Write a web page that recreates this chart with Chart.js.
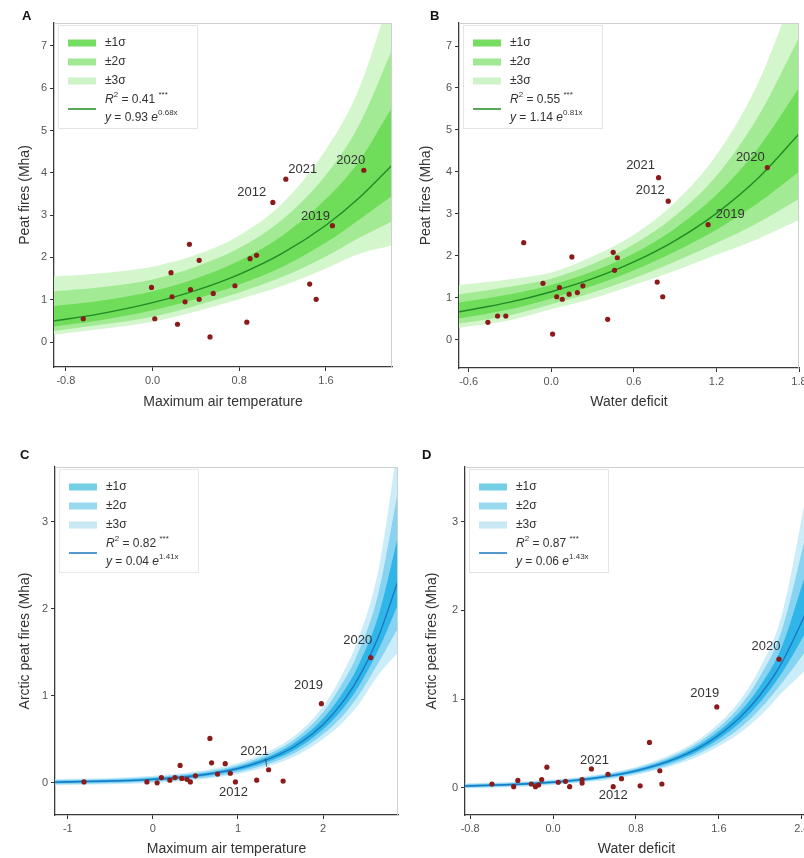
<!DOCTYPE html>
<html>
<head>
<meta charset="utf-8">
<script src="https://cdn.jsdelivr.net/npm/chart.js@4.4.1/dist/chart.umd.min.js"></script>
<style>
  html, body { margin: 0; padding: 0; background: #fff; overflow: hidden; }
  #page { position: relative; width: 804px; height: 858px; overflow: hidden; }
  canvas { position: absolute; }
  .tag { position: absolute; font: bold 13px 'Liberation Sans', Arial, sans-serif; line-height: 13px; color: #111; }
</style>
</head>
<body>
<div id="page">
  <canvas id="chartA" width="400" height="420" style="left:0;top:0"></canvas>
  <canvas id="chartB" width="404" height="420" style="left:400px;top:0"></canvas>
  <canvas id="chartC" width="400" height="418" style="left:0;top:440px"></canvas>
  <canvas id="chartD" width="410" height="418" style="left:400px;top:440px"></canvas>
  <div class="tag" style="left:22px;top:9px">A</div>
  <div class="tag" style="left:430px;top:9px">B</div>
  <div class="tag" style="left:20px;top:448px">C</div>
  <div class="tag" style="left:422px;top:448px">D</div>
</div>
<script>
// ---- tick labels ----
const ticksXA = [-0.8, 0, 0.8, 1.6];
const ticksXB = [-0.6, 0, 0.6, 1.2, 1.8];
const ticksXC = [-1, 0, 1, 2];
const ticksXD = [-0.8, 0, 0.8, 1.6, 2.4];
const ticksYTop = [0, 1, 2, 3, 4, 5, 6, 7];
const ticksYBottom = [0, 1, 2, 3];

// ---- fit text (legend) ----
const r2Values = ['0.41', '0.55', '0.82', '0.87'];
const fitCoefA = ['0.93', '1.14', '0.04', '0.06'];
const fitCoefB = ['0.68x', '0.81x', '1.41x', '1.43x'];

// ---- panel A: peat fires vs maximum air temperature ----
const tempA = [-0.64, -0.01, 0.02, 0.17, 0.18, 0.23, 0.30, 0.34, 0.35, 0.43, 0.43, 0.53, 0.56, 0.76, 0.87, 0.90, 0.96, 1.11, 1.23, 1.45, 1.51, 1.66, 1.95];
const firesA = [0.55, 1.29, 0.55, 1.64, 1.07, 0.42, 0.95, 2.31, 1.24, 1.93, 1.01, 0.12, 1.15, 1.33, 0.47, 1.97, 2.05, 3.30, 3.85, 1.37, 1.01, 2.75, 4.06];
const yearsA = ['', '', '', '', '', '', '', '', '', '', '', '', '', '', '', '', '', '2012', '2021', '', '', '2019', '2020'];
const fitXA = [-0.91, -0.5, 0, 0.4, 0.8, 1.2, 1.6, 1.9, 2.21];
const fitYA = [0.50, 0.66, 0.93, 1.22, 1.60, 2.10, 2.76, 3.39, 4.18];
const up1A = [0.85, 0.97, 1.20, 1.50, 1.92, 2.52, 3.38, 4.25, 5.55];
const up2A = [1.20, 1.29, 1.48, 1.78, 2.22, 2.90, 3.95, 5.10, 6.90];
const up3A = [1.55, 1.62, 1.78, 2.06, 2.52, 3.28, 4.55, 5.95, 8.30];
const lo1A = [0.37, 0.51, 0.75, 1.02, 1.36, 1.78, 2.35, 2.88, 3.45];
const lo2A = [0.26, 0.40, 0.60, 0.86, 1.17, 1.54, 2.02, 2.45, 2.85];
const lo3A = [0.17, 0.30, 0.48, 0.72, 1.01, 1.33, 1.74, 2.08, 2.28];

// ---- panel B: peat fires vs water deficit ----
const deficitB = [-0.46, -0.39, -0.33, -0.20, -0.06, 0.01, 0.04, 0.06, 0.08, 0.13, 0.15, 0.19, 0.23, 0.41, 0.45, 0.48, 0.46, 0.77, 0.78, 0.81, 0.85, 1.14, 1.57];
const firesB = [0.41, 0.56, 0.56, 2.31, 1.34, 0.13, 1.02, 1.24, 0.96, 1.08, 1.97, 1.12, 1.28, 0.48, 2.08, 1.95, 1.65, 1.37, 3.86, 1.02, 3.30, 2.74, 4.10];
const yearsB = ['', '', '', '', '', '', '', '', '', '', '', '', '', '', '', '', '', '', '2021', '', '2012', '2019', '2020'];
const fitXB = [-0.67, -0.3, 0, 0.3, 0.6, 0.9, 1.2, 1.5, 1.8];
const fitYB = [0.66, 0.89, 1.14, 1.45, 1.85, 2.36, 3.01, 3.84, 4.90];
const up1B = [0.88, 1.08, 1.30, 1.62, 2.05, 2.65, 3.45, 4.55, 6.00];
const up2B = [1.08, 1.26, 1.45, 1.80, 2.27, 2.95, 3.90, 5.30, 7.20];
const up3B = [1.30, 1.44, 1.60, 1.98, 2.50, 3.27, 4.40, 6.10, 8.60];
const lo1B = [0.50, 0.72, 0.98, 1.28, 1.65, 2.10, 2.62, 3.25, 4.00];
const lo2B = [0.38, 0.58, 0.84, 1.12, 1.46, 1.86, 2.30, 2.78, 3.35];
const lo3B = [0.28, 0.46, 0.72, 0.98, 1.30, 1.64, 2.02, 2.40, 2.85];

// ---- panel C: arctic peat fires vs maximum air temperature ----
const tempC = [-0.81, -0.07, 0.05, 0.10, 0.20, 0.26, 0.32, 0.34, 0.40, 0.44, 0.50, 0.67, 0.69, 0.76, 0.85, 0.91, 0.97, 1.22, 1.36, 1.53, 1.98, 2.56];
const firesC = [0.01, 0.01, 0.00, 0.06, 0.03, 0.06, 0.20, 0.05, 0.04, 0.01, 0.08, 0.51, 0.23, 0.10, 0.22, 0.11, 0.01, 0.03, 0.15, 0.02, 0.91, 1.44];
const yearsC = ['', '', '', '', '', '', '', '', '', '', '', '', '', '', '', '', '2012', '', '2021', '', '2019', '2020'];
const fitXC = [-1.15, -0.5, 0, 0.5, 1.0, 1.5, 1.75, 2.0, 2.2, 2.4, 2.65, 2.88];
const fitYC = [0.008, 0.020, 0.040, 0.081, 0.164, 0.332, 0.472, 0.671, 0.89, 1.18, 1.68, 2.32];
const up1C = [0.020, 0.032, 0.054, 0.097, 0.185, 0.365, 0.520, 0.74, 0.99, 1.32, 1.92, 2.83];
const up2C = [0.032, 0.044, 0.068, 0.113, 0.206, 0.398, 0.565, 0.81, 1.10, 1.47, 2.18, 3.35];
const up3C = [0.045, 0.056, 0.082, 0.130, 0.228, 0.432, 0.610, 0.88, 1.20, 1.62, 2.45, 3.90];
const lo1C = [-0.004, 0.008, 0.026, 0.065, 0.143, 0.300, 0.430, 0.615, 0.815, 1.08, 1.53, 2.05];
const lo2C = [-0.016, -0.004, 0.012, 0.049, 0.122, 0.268, 0.388, 0.560, 0.740, 0.98, 1.38, 1.78];
const lo3C = [-0.028, -0.016, -0.002, 0.033, 0.101, 0.236, 0.346, 0.505, 0.665, 0.88, 1.24, 1.50];

// ---- panel D: arctic peat fires vs water deficit ----
const deficitD = [-0.59, -0.38, -0.34, -0.21, -0.17, -0.14, -0.11, -0.06, 0.05, 0.12, 0.16, 0.28, 0.28, 0.37, 0.53, 0.58, 0.66, 0.84, 0.93, 1.03, 1.05, 1.58, 2.18];
const firesD = [0.04, 0.01, 0.08, 0.04, 0.01, 0.03, 0.09, 0.23, 0.06, 0.07, 0.01, 0.09, 0.05, 0.21, 0.15, 0.01, 0.10, 0.02, 0.51, 0.19, 0.04, 0.91, 1.45];
const yearsD = ['', '', '', '', '', '', '', '', '', '', '', '', '', '2021', '', '2012', '', '', '', '', '', '2019', '2020'];
const fitXD = [-0.85, -0.4, 0, 0.4, 0.8, 1.2, 1.5, 1.8, 2.0, 2.2, 2.46];
const fitYD = [0.018, 0.034, 0.060, 0.106, 0.188, 0.334, 0.512, 0.787, 1.048, 1.394, 2.02];
const up1D = [0.028, 0.044, 0.070, 0.118, 0.203, 0.358, 0.550, 0.85, 1.15, 1.57, 2.50];
const up2D = [0.038, 0.054, 0.080, 0.130, 0.218, 0.382, 0.587, 0.915, 1.26, 1.75, 2.95];
const up3D = [0.048, 0.064, 0.090, 0.142, 0.233, 0.406, 0.625, 0.98, 1.36, 1.92, 3.40];
const lo1D = [0.008, 0.024, 0.050, 0.094, 0.173, 0.310, 0.476, 0.729, 0.97, 1.28, 1.80];
const lo2D = [-0.002, 0.014, 0.040, 0.082, 0.158, 0.286, 0.440, 0.671, 0.89, 1.17, 1.58];
const lo3D = [-0.012, 0.004, 0.030, 0.070, 0.143, 0.262, 0.404, 0.613, 0.81, 1.06, 1.35];

const FONT = "'Liberation Sans', Arial, sans-serif";
Chart.defaults.font.family = FONT;

const green = { bands: ['#6fdc5a', '#a3ea94', '#d3f6cc'], swatch: ['#74dd62', '#a0e891', '#cdf3c6'], line: '#1f8b24' };
const blue = { bands: ['#2fb5e8', '#86d3f2', '#cbedfa'], swatch: ['#74cfe6', '#98d9ef', '#c8e8f4'], line: '#1b78c2' };

function pts(xs, ys) {
    return xs.map((x, i) => ({ x: x, y: ys[i] }));
}

function drawRich(ctx, x, y, parts) {
    parts.forEach(p => {
        ctx.font = (p.italic ? 'italic ' : '') + (p.sup ? '8px ' : '12px ') + FONT;
        ctx.fillText(p.t, x, y + (p.sup ? -5 : 0));
        x += ctx.measureText(p.t).width;
    });
}

const panelDecor = {
    id: 'panelDecor',
    afterDatasetsDraw(chart, args, o) {
        const ctx = chart.ctx;
        const ca = chart.chartArea;
        ctx.save();

        // light frame on top and right
        ctx.strokeStyle = '#cfcfcf';
        ctx.lineWidth = 1;
        ctx.beginPath();
        ctx.moveTo(ca.left, ca.top + 0.5);
        ctx.lineTo(ca.right - 0.5, ca.top + 0.5);
        ctx.lineTo(ca.right - 0.5, ca.bottom);
        ctx.stroke();

        // year labels
        const meta = chart.getDatasetMeta(7);
        ctx.fillStyle = '#333';
        ctx.font = '13px ' + FONT;
        ctx.textAlign = 'center';
        ctx.textBaseline = 'middle';
        o.years.forEach((yr, i) => {
            if (!yr) return;
            const el = meta.data[i];
            const off = o.offsets[yr];
            const lx = el.x + off[0];
            const ly = el.y + off[1];
            ctx.fillText(yr, lx, ly);
            if (o.leaders && o.leaders.indexOf(yr) >= 0) {
                ctx.strokeStyle = '#333';
                ctx.lineWidth = 0.8;
                ctx.beginPath();
                ctx.moveTo(lx + 11, ly + 7);
                ctx.lineTo(el.x - 2, el.y - 3);
                ctx.stroke();
            }
        });

        // legend box
        const x0 = ca.left + 4;
        const y0 = ca.top + 2;
        ctx.fillStyle = '#fff';
        ctx.fillRect(x0, y0, 139, 103);
        ctx.strokeStyle = '#e4e4e4';
        ctx.strokeRect(x0 + 0.5, y0 + 0.5, 139, 103);
        const rows = [18, 37, 56];
        ['±1σ', '±2σ', '±3σ'].forEach((t, k) => {
            ctx.fillStyle = o.palette.swatch[k];
            ctx.fillRect(x0 + 10, y0 + rows[k] - 3.5, 28, 7);
            ctx.fillStyle = '#333';
            ctx.textAlign = 'left';
            ctx.font = '12px ' + FONT;
            ctx.fillText(t, x0 + 47, y0 + rows[k]);
        });
        ctx.strokeStyle = o.palette.line;
        ctx.lineWidth = 1.5;
        ctx.beginPath();
        ctx.moveTo(x0 + 10, y0 + 84);
        ctx.lineTo(x0 + 38, y0 + 84);
        ctx.stroke();
        ctx.fillStyle = '#333';
        ctx.textAlign = 'left';
        drawRich(ctx, x0 + 47, y0 + 75, [
            { t: 'R', italic: true }, { t: '2', sup: true }, { t: ' = ' + r2Values[o.idx] + ' ' }, { t: '***', sup: true }
        ]);
        drawRich(ctx, x0 + 47, y0 + 93, [
            { t: 'y', italic: true }, { t: ' = ' + fitCoefA[o.idx] + ' ' }, { t: 'e', italic: true }, { t: fitCoefB[o.idx], sup: true }
        ]);
        ctx.restore();
    }
};

function buildPanel(p) {
    const band = (data, color, fill, order) => ({
        data: pts(p.fx, data),
        borderWidth: 0,
        pointRadius: 0,
        backgroundColor: color,
        fill: fill,
        cubicInterpolationMode: 'monotone',
        order: order
    });
    const fmt = v => p.decimals ? Number(v).toFixed(p.decimals) : String(v);

    return new Chart(document.getElementById(p.id), {
        type: 'line',
        data: {
            datasets: [
                band(p.up[2], p.palette.bands[2], 1, 6),
                band(p.lo[2], p.palette.bands[2], false, 6),
                band(p.up[1], p.palette.bands[1], 3, 5),
                band(p.lo[1], p.palette.bands[1], false, 5),
                band(p.up[0], p.palette.bands[0], 5, 4),
                band(p.lo[0], p.palette.bands[0], false, 4),
                {
                    data: pts(p.fx, p.fit),
                    borderColor: p.palette.line,
                    borderWidth: 1.4,
                    pointRadius: 0,
                    fill: false,
                    cubicInterpolationMode: 'monotone',
                    order: 1
                },
                {
                    data: pts(p.x, p.y),
                    showLine: false,
                    pointRadius: 2.6,
                    pointBorderWidth: 0,
                    pointBackgroundColor: '#8b1a1a',
                    order: 0
                }
            ]
        },
        options: {
            responsive: false,
            animation: false,
            events: [],
            layout: { autoPadding: false, padding: { top: p.top, right: p.right, left: 0, bottom: 0 } },
            plugins: {
                legend: { display: false },
                tooltip: { enabled: false },
                panelDecor: { years: p.years, offsets: p.offsets, leaders: p.leaders, palette: p.palette, idx: p.idx }
            },
            scales: {
                x: {
                    type: 'linear',
                    min: p.xMin,
                    max: p.xMax,
                    afterBuildTicks: s => { s.ticks = p.xTicks.map(v => ({ value: v })); },
                    afterFit: s => { s.height = p.xH; s.paddingLeft = 0; s.paddingRight = 0; },
                    ticks: { callback: v => fmt(v), color: '#555', font: { size: 11 }, padding: 3, maxRotation: 0, autoSkip: false },
                    grid: { drawOnChartArea: false, drawTicks: true, tickLength: 4, tickColor: '#333' },
                    border: { display: true, color: '#3a3a3a', width: 1.3 },
                    title: { display: true, text: p.xTitle, color: '#333', font: { size: 14 }, padding: { top: 0, bottom: p.xTitlePad } }
                },
                y: {
                    type: 'linear',
                    min: p.yMin,
                    max: p.yMax,
                    afterBuildTicks: s => { s.ticks = p.yTicks.map(v => ({ value: v })); },
                    afterFit: s => { s.width = p.yW; s.paddingTop = 0; s.paddingBottom = 0; },
                    ticks: { callback: v => String(v), color: '#555', font: { size: 11 }, padding: 3, autoSkip: false },
                    grid: { drawOnChartArea: false, drawTicks: true, tickLength: 4, tickColor: '#333' },
                    border: { display: true, color: '#3a3a3a', width: 1.3 },
                    title: { display: true, text: p.yTitle, color: '#333', font: { size: 14 }, padding: { top: p.yTitlePad, bottom: 0 } }
                }
            }
        },
        plugins: [panelDecor]
    });
}

buildPanel({
    id: 'chartA', idx: 0, palette: green,
    x: tempA, y: firesA, years: yearsA,
    fx: fitXA, fit: fitYA, up: [up1A, up2A, up3A], lo: [lo1A, lo2A, lo3A],
    xMin: -0.91, xMax: 2.21, yMin: -0.59, yMax: 7.54,
    xTicks: ticksXA, yTicks: ticksYTop, decimals: 1,
    xTitle: 'Maximum air temperature', yTitle: 'Peat fires (Mha)',
    top: 23, right: 8, yW: 54, xH: 53, yTitlePad: 17, xTitlePad: 9,
    offsets: { '2012': [-21, -10], '2021': [17, -10], '2019': [-17, -9], '2020': [-13, -10] }
});

buildPanel({
    id: 'chartB', idx: 1, palette: green,
    x: deficitB, y: firesB, years: yearsB,
    fx: fitXB, fit: fitYB, up: [up1B, up2B, up3B], lo: [lo1B, lo2B, lo3B],
    xMin: -0.67, xMax: 1.8, yMin: -0.68, yMax: 7.55,
    xTicks: ticksXB, yTicks: ticksYTop, decimals: 1,
    xTitle: 'Water deficit', yTitle: 'Peat fires (Mha)',
    top: 23, right: 5, yW: 59, xH: 52, yTitlePad: 18, xTitlePad: 9,
    offsets: { '2021': [-18, -12], '2012': [-18, -11], '2019': [22, -10], '2020': [-17, -10] }
});

buildPanel({
    id: 'chartC', idx: 2, palette: blue,
    x: tempC, y: firesC, years: yearsC,
    fx: fitXC, fit: fitYC, up: [up1C, up2C, up3C], lo: [lo1C, lo2C, lo3C],
    xMin: -1.15, xMax: 2.88, yMin: -0.37, yMax: 3.63,
    xTicks: ticksXC, yTicks: ticksYBottom, decimals: 0,
    xTitle: 'Maximum air temperature', yTitle: 'Arctic peat fires (Mha)',
    top: 27, right: 2, yW: 55, xH: 43, yTitlePad: 17, xTitlePad: 0,
    offsets: { '2020': [-13, -17], '2019': [-13, -18], '2021': [-14, -18], '2012': [-2, 10] },
    leaders: ['2021']
});

buildPanel({
    id: 'chartD', idx: 3, palette: blue,
    x: deficitD, y: firesD, years: yearsD,
    fx: fitXD, fit: fitYD, up: [up1D, up2D, up3D], lo: [lo1D, lo2D, lo3D],
    xMin: -0.85, xMax: 2.46, yMin: -0.31, yMax: 3.62,
    xTicks: ticksXD, yTicks: ticksYBottom, decimals: 1,
    xTitle: 'Water deficit', yTitle: 'Arctic peat fires (Mha)',
    top: 27, right: 2, yW: 65, xH: 43, yTitlePad: 24, xTitlePad: 0,
    offsets: { '2020': [-13, -13], '2019': [-12, -14], '2021': [3, -9], '2012': [0, 9] }
});
</script>
</body>
</html>
